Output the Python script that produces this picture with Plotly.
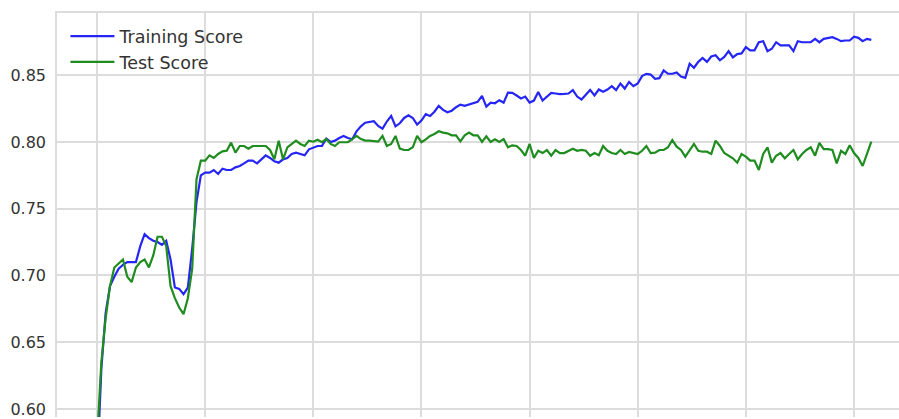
import plotly.graph_objects as go

# Model size (x) against mean score for the training and held-out sets
steps = list(range(0, 180))

training_score = [
    0.553, 0.630, 0.672, 0.692, 0.699, 0.705, 0.708, 0.710, 0.710, 0.710,
    0.722, 0.731, 0.728, 0.726, 0.725, 0.723, 0.726, 0.712, 0.691, 0.690,
    0.686, 0.691, 0.720, 0.755, 0.775, 0.777, 0.777, 0.779, 0.776, 0.780,
    0.779, 0.779, 0.781, 0.782, 0.784, 0.786, 0.786, 0.784, 0.787, 0.790,
    0.788, 0.7855, 0.7845, 0.787, 0.788, 0.791, 0.792, 0.791, 0.790, 0.7945,
    0.796, 0.797, 0.797, 0.8025, 0.800, 0.801, 0.803, 0.8045, 0.803, 0.802,
    0.808, 0.8117, 0.8144, 0.815, 0.8155, 0.812, 0.810, 0.8153, 0.8195, 0.8117,
    0.814, 0.818, 0.820, 0.818, 0.813, 0.816, 0.8208, 0.8195, 0.8227, 0.827,
    0.824, 0.8222, 0.8234, 0.826, 0.828, 0.827, 0.828, 0.8295, 0.830, 0.8345,
    0.8265, 0.8295, 0.829, 0.8313, 0.8295, 0.837, 0.8368, 0.8348, 0.8326, 0.834,
    0.8295, 0.831, 0.8375, 0.831, 0.834, 0.8368, 0.8363, 0.8358, 0.836, 0.8363,
    0.8388, 0.834, 0.8318, 0.8353, 0.839, 0.8348, 0.8393, 0.8376, 0.8393, 0.8418,
    0.8388, 0.8438, 0.840, 0.845, 0.8418, 0.8438, 0.8493, 0.851, 0.8505, 0.8473,
    0.8478, 0.8536, 0.8511, 0.8511, 0.852, 0.849, 0.848, 0.8586, 0.8556, 0.860,
    0.8629, 0.860, 0.864, 0.865, 0.8612, 0.8637, 0.868, 0.8633, 0.8658, 0.8663,
    0.871, 0.8686, 0.8686, 0.8747, 0.8755, 0.868, 0.8698, 0.8747, 0.8723, 0.8723,
    0.8723, 0.868, 0.8755, 0.8747, 0.8747, 0.8747, 0.8772, 0.8747, 0.8772, 0.878,
    0.8785, 0.8772, 0.8755, 0.876, 0.876, 0.8789, 0.878, 0.8755, 0.8772, 0.8765,
]

test_score = [
    0.576, 0.635, 0.668, 0.692, 0.706, 0.709, 0.712, 0.699, 0.695, 0.706,
    0.710, 0.712, 0.706, 0.715, 0.729, 0.729, 0.722, 0.692, 0.683, 0.676,
    0.671, 0.683, 0.705, 0.772, 0.786, 0.786, 0.790, 0.788, 0.791, 0.793,
    0.7935, 0.7995, 0.792, 0.797, 0.797, 0.795, 0.797, 0.797, 0.797, 0.797,
    0.794, 0.787, 0.801, 0.787, 0.796, 0.7985, 0.801, 0.7985, 0.797, 0.801,
    0.8002, 0.8017, 0.7998, 0.8022, 0.7985, 0.797, 0.7998, 0.7998, 0.7998, 0.8022,
    0.8045, 0.8022, 0.801, 0.801, 0.8005, 0.8002, 0.8045, 0.797, 0.7985, 0.8045,
    0.795, 0.794, 0.794, 0.796, 0.8045, 0.7998, 0.802, 0.8045, 0.806, 0.808,
    0.807, 0.8065, 0.805, 0.805, 0.8005, 0.805, 0.807, 0.805, 0.805, 0.800,
    0.8042, 0.800, 0.802, 0.800, 0.8022, 0.796, 0.7975, 0.797, 0.794, 0.7897,
    0.7985, 0.788, 0.7934, 0.7917, 0.794, 0.7897, 0.794, 0.7917, 0.7917, 0.7934,
    0.795, 0.7934, 0.794, 0.7934, 0.7897, 0.7917, 0.790, 0.797, 0.7934, 0.7917,
    0.791, 0.794, 0.791, 0.7925, 0.792, 0.791, 0.7934, 0.797, 0.7917, 0.792,
    0.794, 0.794, 0.796, 0.8015, 0.7965, 0.794, 0.789, 0.794, 0.7985, 0.7934,
    0.7927, 0.7927, 0.791, 0.801, 0.797, 0.7917, 0.7897, 0.7878, 0.7845, 0.791,
    0.789, 0.786, 0.786, 0.779, 0.791, 0.796, 0.7845, 0.7897, 0.7917, 0.7878,
    0.791, 0.794, 0.787, 0.791, 0.794, 0.796, 0.7897, 0.7993, 0.7947, 0.7947,
    0.794, 0.784, 0.7934, 0.791, 0.7975, 0.7917, 0.788, 0.782, 0.791, 0.8002,
]

y_ticks = [0.60, 0.65, 0.70, 0.75, 0.80, 0.85]
x_ticks = [0, 25, 50, 75, 100, 125, 150, 175]

FONT = "DejaVu Sans"
GRID = "#dcdcdc"
TEXT = "#333333"

fig = go.Figure()
fig.add_trace(go.Scatter(
    x=steps, y=training_score, mode="lines", name="Training Score",
    line=dict(color="#2525f5", width=2.2),
))
fig.add_trace(go.Scatter(
    x=steps, y=test_score, mode="lines", name="Test Score",
    line=dict(color="#1f8c1f", width=2.2),
))

fig.update_layout(
    width=899, height=419,
    margin=dict(l=57, r=0, t=13, b=0),
    paper_bgcolor="white", plot_bgcolor="white",
    font=dict(family=FONT, size=16, color=TEXT),
    showlegend=True,
    legend=dict(
        x=0.01, y=0.987, xanchor="left", yanchor="top",
        bgcolor="rgba(0,0,0,0)", font=dict(family=FONT, size=17.5, color=TEXT),
        itemwidth=44,
    ),
)

fig.update_xaxes(
    range=[-9.25, 185.4], tickvals=x_ticks, showticklabels=False,
    showgrid=True, gridcolor=GRID, gridwidth=1.5, zeroline=False,
    side="top", showline=True, linecolor=GRID, linewidth=1.5,
)
fig.update_yaxes(
    range=[0.594, 0.8966], tickvals=y_ticks, tickformat=".2f",
    showgrid=True, gridcolor=GRID, gridwidth=1.5, zeroline=False,
    showline=True, linecolor=GRID, linewidth=1.5,
    tickfont=dict(family=FONT, size=16, color=TEXT),
    ticklabelstandoff=6, ticklabeloverflow="allow",
)

fig.write_html("out.html")
